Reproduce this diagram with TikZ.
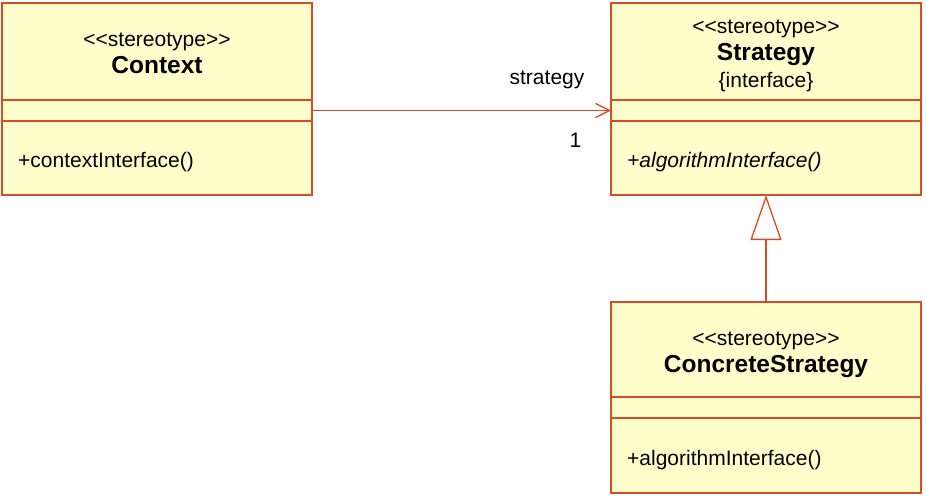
\documentclass[tikz,border=0pt]{standalone}
\usepackage{fontspec}
\setmainfont{Liberation Sans}[Ligatures=TeXOff]
\usetikzlibrary{positioning,arrows.meta}
\definecolor{umlline}{RGB}{214,76,38}
\definecolor{umlfill}{RGB}{255,255,204}
\newcommand\classname[1]{{\fontsize{24.5}{27}\selectfont\bfseries #1}}

\begin{document}
\begin{tikzpicture}[x=1pt,y=-1pt,
		part/.style={rectangle,draw=umlline,fill=umlfill,line width=1.3pt,minimum width=310pt,inner sep=0pt,outer sep=0pt},
		headtext/.style={anchor=base,inner sep=0pt,align=center,font=\fontsize{21}{27}\selectfont},
		member/.style={anchor=base west,inner sep=0pt,font=\fontsize{21}{25}\selectfont},
		lbl/.style={anchor=base east,inner sep=0pt,text=black,font=\fontsize{21}{25}\selectfont}]
		\useasboundingbox (0,0) rectangle (926,498);
		
		% Context
		\node[part,minimum height=97pt,anchor=north west] (ctx) at (2,3) {};
		\node[part,minimum height=21pt,below=0pt of ctx] (ctxattr) {};
		\node[part,minimum height=74pt,below=0pt of ctxattr] (ctxops) {};
		\node[headtext] (ctxname) at ([yshift=-70pt]ctx.north) {<<stereotype>>\\\classname{Context}};
		\node[member] (ctxop) at ([xshift=16pt,yshift=-46pt]ctxops.north west) {+contextInterface()};
		
		% Strategy
		\node[part,minimum height=97pt,anchor=north west] (stg) at (611,3) {};
		\node[part,minimum height=21pt,below=0pt of stg] (stgattr) {};
		\node[part,minimum height=74pt,below=0pt of stgattr] (stgops) {};
		\node[headtext] (stgname) at ([yshift=-84pt]stg.north) {<<stereotype>>\\\classname{Strategy}\\\{interface\}};
		\node[member] (stgop) at ([xshift=16pt,yshift=-46pt]stgops.north west) {\itshape +algorithmInterface()};
		
		% ConcreteStrategy
		\node[part,minimum height=95pt,anchor=north west] (cst) at (611,302) {};
		\node[part,minimum height=21pt,below=0pt of cst] (cstattr) {};
		\node[part,minimum height=75pt,below=0pt of cstattr] (cstops) {};
		\node[headtext] (cstname) at ([yshift=-70pt]cst.north) {<<stereotype>>\\\classname{ConcreteStrategy}};
		\node[member] (cstop) at ([xshift=16pt,yshift=-47pt]cstops.north west) {+algorithmInterface()};
		
		\path[line width=1.3pt]
		(ctxattr.east) edge[draw=umlline,-{Straight Barb[length=14pt,width=14pt]}]
			node[lbl,pos=1,xshift=-26pt,yshift=26.5pt] (rolename) {strategy}
			node[lbl,pos=1,xshift=-29pt,yshift=-36.5pt] (mult) {1} (stgattr.west)
		(cst.north) edge[draw=umlline,-{Triangle[open,length=45pt,width=31pt]}] (stgops.south);
\end{tikzpicture}
\end{document}
